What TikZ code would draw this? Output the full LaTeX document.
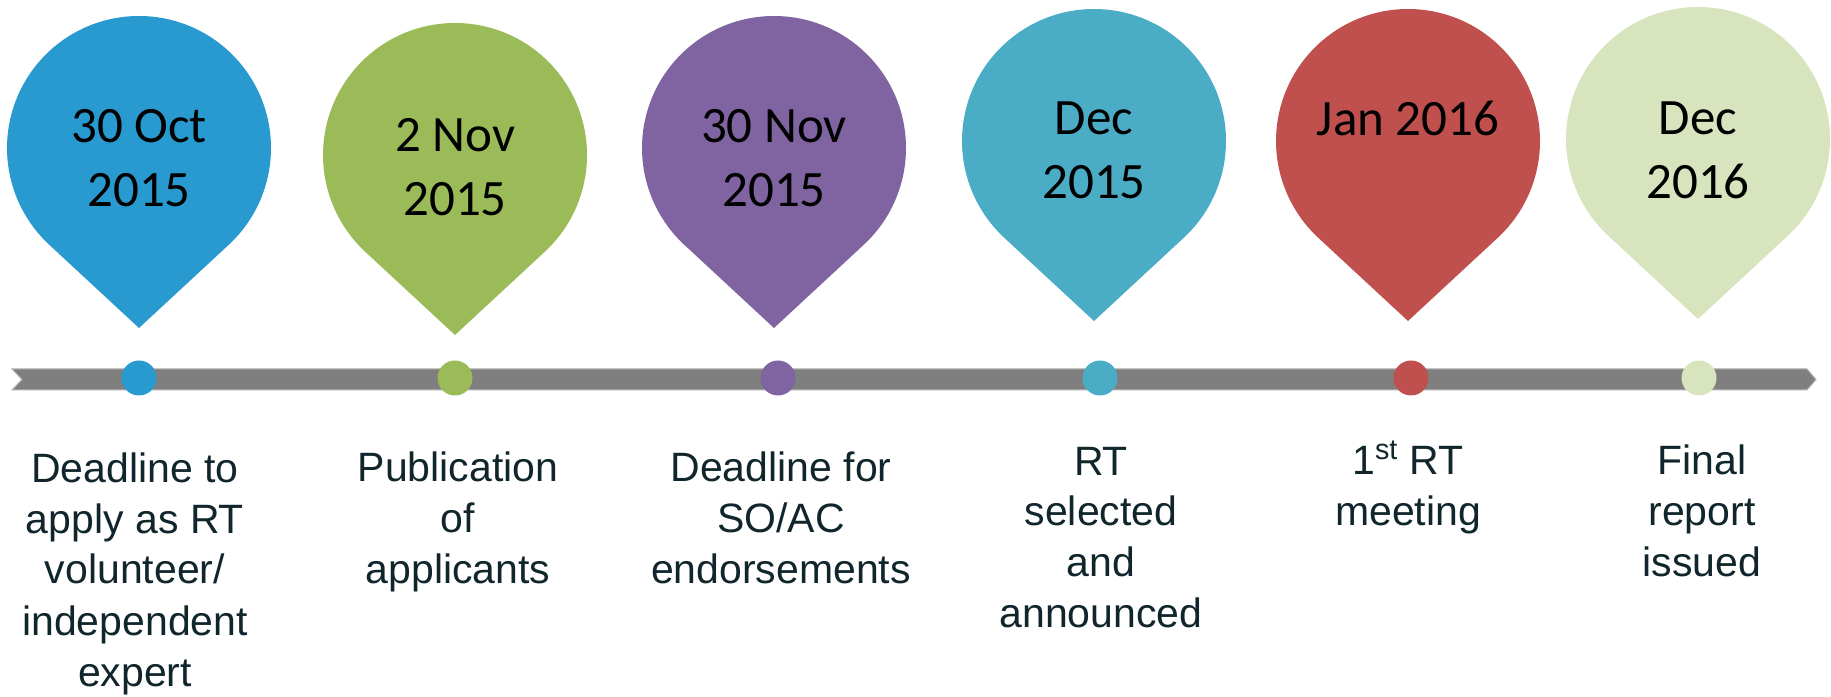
\documentclass[tikz,border=0pt]{standalone}
\usepackage{fontspec}
\setmainfont{Liberation Sans}
\newfontfamily\datefont{Carlito}
\definecolor{pinblue}{RGB}{40,154,208}
\definecolor{pingreen}{RGB}{155,187,89}
\definecolor{pinpurple}{RGB}{128,100,162}
\definecolor{pinteal}{RGB}{75,172,198}
\definecolor{pinred}{RGB}{192,80,77}
\definecolor{pinpale}{RGB}{215,228,189}
\definecolor{bargray}{RGB}{127,127,127}
\definecolor{textdark}{RGB}{16,37,44}
\begin{document}
\begin{tikzpicture}[
        x=0.5pt, y=0.5pt,
        font=\fontsize{20.5}{25.5}\selectfont
    ]
    \tikzset{
        datetext/.style = {align=center, anchor=base, inner sep=0pt,
            font=\datefont\fontsize{25.5}{32}\selectfont},
        eventtext/.style = {align=center, anchor=base, inner sep=0pt, text=textdark},
        dot/.style = {circle, inner sep=0pt, minimum size=17.5pt},
        timebar/.style = {fill=bargray, draw=bargray!60, line width=0.5pt},
    }
    \useasboundingbox (0,0) rectangle (1831,696);
    % time line
    \draw[timebar] (12,327) -- (1807,327) -- (1816,316.5) -- (1807,306)
        -- (12,306) -- (22,316.5) -- cycle;
    %
    \fill[pinblue] (139,548) ++(-47.17:132) arc[start angle=-47.17, end angle=227.17, radius=132] -- (139,368) -- cycle;
    \fill[pingreen] (455,541) ++(-47.17:132) arc[start angle=-47.17, end angle=227.17, radius=132] -- (455,361) -- cycle;
    \fill[pinpurple] (774,548) ++(-47.17:132) arc[start angle=-47.17, end angle=227.17, radius=132] -- (774,368) -- cycle;
    \fill[pinteal] (1094,555) ++(-47.17:132) arc[start angle=-47.17, end angle=227.17, radius=132] -- (1094,375) -- cycle;
    \fill[pinred] (1408,555) ++(-47.17:132) arc[start angle=-47.17, end angle=227.17, radius=132] -- (1408,375) -- cycle;
    \fill[pinpale] (1698,557) ++(-47.17:132) arc[start angle=-47.17, end angle=227.17, radius=132] -- (1698,377) -- cycle;
    % base anchor sits on the last line
    \node[datetext] at (139,489) (t1) {30 Oct\\2015};
    \node[datetext] at (455,480) (t2) {2 Nov\\2015};
    \node[datetext] at (774,489) (t3) {30 Nov\\2015};
    \node[datetext] at (1094,497) (t4) {Dec\\2015};
    \node[datetext] at (1408,560) (t5) {Jan 2016};
    \node[datetext] at (1698,497) (t6) {Dec\\2016};
    %
    \node[dot, fill=pinblue] at (139,318) (d1) {};
    \node[dot, fill=pingreen] at (455,318) (d2) {};
    \node[dot, fill=pinpurple] at (778,318) (d3) {};
    \node[dot, fill=pinteal] at (1100,318) (d4) {};
    \node[dot, fill=pinred] at (1411,318) (d5) {};
    \node[dot, fill=pinpale] at (1699,318) (d6) {};
    %
    \node[eventtext] at (135,10) (e1) {Deadline to\\apply as RT\\volunteer/\\independent\\expert};
    \node[eventtext] at (458,112) (e2) {Publication\\of\\applicants};
    \node[eventtext] at (781,112) (e3) {Deadline for\\SO/AC\\endorsements};
    \node[eventtext] at (1101,68) (e4) {RT\\selected\\and\\announced};
    \node[eventtext] at (1408,170) (e5) {1\textsuperscript{st} RT\\meeting};
    \node[eventtext] at (1702,119) (e6) {Final\\report\\issued};
\end{tikzpicture}
\end{document}
